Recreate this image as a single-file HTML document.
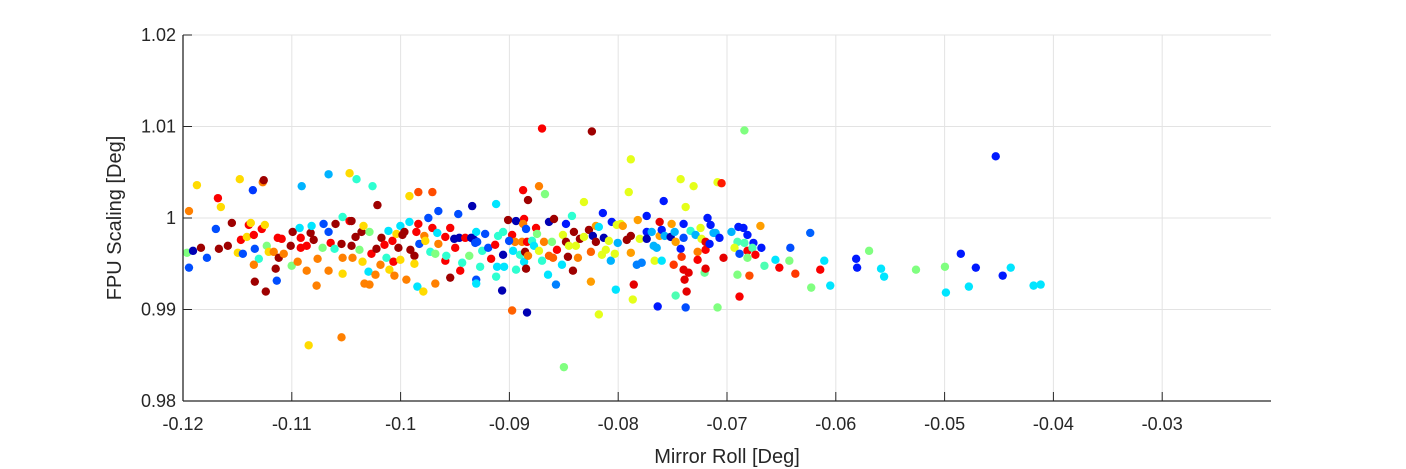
<!DOCTYPE html>
<html><head><meta charset="utf-8">
<style>
html,body{margin:0;padding:0;background:#fff;}
svg{display:block;font-family:"Liberation Sans",Arial,sans-serif;}
</style></head>
<body>
<svg id="chart" width="1406" height="469" viewBox="0 0 1406 469" xmlns="http://www.w3.org/2000/svg">
<rect x="0" y="0" width="1406" height="469" fill="#fff"/>
<g id="grid"></g>
<g id="points"></g>
<g id="axes"></g>
<text x="727" y="463" font-size="20" fill="#262626" text-anchor="middle">Mirror Roll [Deg]</text>
<text transform="translate(121,218) rotate(-90)" font-size="20" fill="#262626" text-anchor="middle">FPU Scaling [Deg]</text>
</svg>
<script>
const xTicks = [-0.12,-0.11,-0.10,-0.09,-0.08,-0.07,-0.06,-0.05,-0.04,-0.03];
const xTickLabels = ["-0.12","-0.11","-0.1","-0.09","-0.08","-0.07","-0.06","-0.05","-0.04","-0.03"];
const yTicks = [0.98,0.99,1.00,1.01,1.02];
const yTickLabels = ["0.98","0.99","1","1.01","1.02"];
const xDomain = [-0.12,-0.02];
const yDomain = [0.98,1.02];
// each point: [mirror roll, fpu scaling, colour value 0..1 (jet)]
const points = [
[-0.11945,1.00076,.75],[-0.11872,1.00359,.66],[-0.11679,1.00217,.88],[-0.11652,1.00120,.66],[-0.11478,1.00424,.66],[-0.11358,1.00304,.18],[-0.11267,1.00391,.75],[-0.11258,1.00413,.97],[-0.10909,1.00348,.3],[-0.10662,1.00478,.3],[-0.10469,1.00489,.66],[-0.10405,1.00424,.42],[-0.10258,1.00348,.42],[-0.09919,1.00239,.66],[-0.09837,1.00283,.8],[-0.09708,1.00283,.8],[-0.10213,1.00141,.97],[-0.09342,1.00130,.05],
[-0.11963,0.99620,.5],[-0.11908,0.99641,.05],[-0.11945,0.99457,.2],[-0.11835,0.99674,.97],[-0.11780,0.99565,.2],[-0.11698,0.99880,.2],[-0.11670,0.99663,.97],[-0.11588,0.99696,.97],[-0.11551,0.99946,.97],[-0.11496,0.99620,.66],[-0.11468,0.99761,.88],[-0.11450,0.99609,.2],[-0.11413,0.99793,.66],[-0.11395,0.99924,.88],[-0.11377,0.99946,.66],[-0.11349,0.99815,.88],[-0.11340,0.99663,.2],[-0.11303,0.99554,.42],[-0.11349,0.99489,.75],[-0.11340,0.99304,.97],[-0.11276,0.99880,.88],[-0.11248,0.99924,.66],[-0.11239,0.99196,.97],[-0.11230,0.99696,.5],[-0.11212,0.99630,.66],[-0.11166,0.99630,.75],[-0.11148,0.99446,.97],[-0.11138,0.99315,.2],[-0.11129,0.99783,.88],[-0.11120,0.99565,.97],[-0.11093,0.99772,.88],[-0.11074,0.99609,.75],[-0.11010,0.99696,.97],[-0.11001,0.99478,.5],[-0.10992,0.99848,.97],[-0.10946,0.99522,.75],[-0.10928,0.99891,.35],[-0.10918,0.99783,.88],[-0.10918,0.99674,.88],[-0.10863,0.99424,.75],[-0.10863,0.99696,.88],[-0.10827,0.99837,.97],[-0.10818,0.99913,.35],[-0.10799,0.99761,.97],[-0.10772,0.99261,.75],[-0.10763,0.99554,.75],[-0.10717,0.99674,.5],[-0.10708,0.99935,.2],[-0.10662,0.99848,.2],[-0.10662,0.99424,.75],[-0.10643,0.99728,.88],[-0.10607,0.99663,.42],[-0.10598,0.99935,.97],[-0.10543,0.99717,.97],[-0.10533,1.00011,.42],[-0.10533,0.99391,.66],[-0.10533,0.99565,.75],[-0.10469,0.99967,.88],[-0.10451,0.99967,.97],[-0.10451,0.99696,.97],[-0.10442,0.99565,.75],[-0.10414,0.99793,.97],[-0.10378,0.99652,.5],[-0.10359,0.99848,.97],[-0.10341,0.99913,.66],[-0.10350,0.99522,.66],[-0.10332,0.99283,.75],[-0.10286,0.99272,.75],[-0.10286,0.99848,.5],[-0.10295,0.99413,.35],[-0.10268,0.99609,.88],[-0.10231,0.99380,.75],[-0.10222,0.99663,.97],[-0.10185,0.99489,.75],[-0.10176,0.99783,.97],[-0.10148,0.99707,.88],[-0.10130,0.99565,.42],[-0.10112,0.99859,.35],[-0.10103,0.99435,.66],[-0.10075,0.99750,.88],[-0.10066,0.99522,.88],[-0.10057,0.99370,.75],[-0.10038,0.99826,.66],[-0.10020,0.99674,.97],[-0.10002,0.99543,.66],[-0.10002,0.99913,.35],[-0.09983,0.99815,.97],[-0.09965,0.99848,.97],[-0.09947,0.99326,.75],[-0.09919,0.99957,.35],[-0.09910,0.99652,.97],[-0.09873,0.99587,.97],[-0.09873,0.99500,.66],[-0.09855,0.99848,.88],[-0.09846,0.99250,.35],[-0.09837,0.99935,.88],[-0.09828,0.99717,.2],[-0.09791,0.99196,.66],[-0.09782,0.99804,.75],[-0.09773,0.99750,.66],[-0.09745,1.00000,.2],[-0.09727,0.99630,.42],[-0.09708,0.99891,.88],[-0.09681,0.99283,.75],[-0.09681,0.99609,.5],[-0.09663,0.99837,.35],[-0.09653,1.00076,.2],[-0.09653,0.99717,.75],[-0.09589,0.99793,.88],[-0.09589,0.99533,.88],[-0.09580,0.99587,.42],[-0.09544,0.99348,.97],[-0.09544,0.99891,.88],[-0.09507,0.99772,.05],[-0.09498,0.99674,.88],[-0.09470,1.00043,.2],[-0.09461,0.99783,.05],[-0.09452,0.99424,.88],[-0.09434,0.99511,.42],[-0.09406,0.99783,.88],[-0.09369,0.99587,.5],[-0.09324,0.99761,.05],[-0.09305,0.99326,.2],[-0.09305,0.99283,.35],[-0.09296,0.99739,.2],[-0.10845,0.98609,.66],[-0.10543,0.98696,.75],
[-0.09122,1.00152,.35],[-0.08874,1.00304,.88],[-0.08829,1.00196,.97],[-0.08728,1.00348,.75],[-0.08673,1.00261,.5],[-0.08315,1.00174,.6],[-0.07884,1.00641,.6],[-0.07903,1.00283,.6],[-0.07582,1.00185,.15],[-0.07426,1.00424,.6],[-0.07307,1.00348,.6],[-0.07380,1.00120,.6],[-0.07087,1.00391,.6],[-0.07050,1.00380,.85],
[-0.09305,0.99848,.35],[-0.09223,0.99826,.2],[-0.09351,0.99783,.05],[-0.09314,0.99728,.2],[-0.09250,0.99641,.42],[-0.09195,0.99674,.2],[-0.09168,0.99554,.88],[-0.09131,0.99707,.88],[-0.09104,0.99804,.42],[-0.09058,0.99848,.42],[-0.09058,0.99598,.05],[-0.09113,0.99467,.35],[-0.09049,0.99467,.35],[-0.09122,0.99359,.42],[-0.09269,0.99467,.42],[-0.09067,0.99207,.05],[-0.09012,0.99978,.97],[-0.08939,0.99967,.05],[-0.08975,0.99815,.88],[-0.08948,0.99739,.75],[-0.09003,0.99750,.2],[-0.08966,0.99641,.35],[-0.08939,0.99435,.42],[-0.08902,0.99598,.42],[-0.08884,0.99739,.75],[-0.08865,0.99989,.88],[-0.08874,0.99935,.75],[-0.08847,0.99880,.2],[-0.08856,0.99630,.97],[-0.08865,0.99522,.35],[-0.08847,0.99446,.97],[-0.08829,0.99587,.75],[-0.08838,0.99739,.88],[-0.08792,0.99750,.42],[-0.08774,0.99696,.35],[-0.08755,0.99891,.88],[-0.08746,0.99826,.5],[-0.08728,0.99641,.6],[-0.08700,0.99533,.42],[-0.08682,0.99739,.75],[-0.08645,0.99380,.35],[-0.08636,0.99957,.05],[-0.08636,0.99587,.78],[-0.08599,0.99565,.78],[-0.08590,0.99989,.97],[-0.08609,0.99739,.5],[-0.08563,0.99652,.88],[-0.08572,0.99272,.25],[-0.08517,0.99489,.35],[-0.08508,0.99815,.6],[-0.08480,0.99739,.97],[-0.08480,0.99935,.15],[-0.08462,0.99576,.97],[-0.08453,0.99696,.6],[-0.08425,1.00022,.42],[-0.08407,0.99848,.97],[-0.08389,0.99696,.6],[-0.08416,0.99424,.97],[-0.08370,0.99565,.75],[-0.08352,0.99772,.97],[-0.08315,0.99793,.6],[-0.08269,0.99870,.97],[-0.08251,0.99630,.78],[-0.08251,0.99304,.72],[-0.08233,0.99804,.05],[-0.08205,0.99739,.97],[-0.08205,0.99913,.72],[-0.08178,0.99902,.35],[-0.08141,1.00054,.15],[-0.08132,0.99783,.05],[-0.08150,0.99598,.6],[-0.08114,0.99652,.6],[-0.08086,0.99750,.6],[-0.08068,0.99533,.3],[-0.08059,0.99957,.15],[-0.08031,0.99609,.6],[-0.08022,0.99217,.35],[-0.08013,0.99924,.6],[-0.08004,0.99728,.3],[-0.07976,0.99935,.6],[-0.07958,0.99913,.72],[-0.07921,0.99761,.97],[-0.07884,0.99804,.97],[-0.07884,0.99620,.72],[-0.07857,0.99272,.9],[-0.07866,0.99109,.6],[-0.07829,0.99489,.25],[-0.07820,0.99978,.72],[-0.07802,0.99772,.6],[-0.07784,0.99511,.25],[-0.07738,1.00022,.15],[-0.07738,0.99848,.15],[-0.07738,0.99772,.05],[-0.07692,0.99848,.3],[-0.07674,0.99696,.3],[-0.07665,0.99533,.6],[-0.07646,0.99674,.3],[-0.07637,0.99033,.15],[-0.07619,0.99957,.9],[-0.07619,0.99804,.72],[-0.07600,0.99533,.35],[-0.07600,0.99870,.15],[-0.07573,0.99804,.3],[-0.07518,0.99793,.05],[-0.07509,0.99935,.72],[-0.07490,0.99489,.82],[-0.07481,0.99848,.3],[-0.07472,0.99739,.72],[-0.07472,0.99152,.45],[-0.07426,0.99663,.15],[-0.07417,0.99576,.82],[-0.07399,0.99935,.15],[-0.07399,0.99783,.2],[-0.07399,0.99435,.9],[-0.07390,0.99326,.9],[-0.07353,0.99402,.9],[-0.07371,0.99196,.9],[-0.07335,0.99859,.42],[-0.07289,0.99815,.3],[-0.07270,0.99630,.75],[-0.07270,0.99543,.88],[-0.07243,0.99891,.6],[-0.07234,0.99772,.6],[-0.07206,0.99402,.48],[-0.07197,0.99652,.88],[-0.07197,0.99739,.9],[-0.07197,0.99446,.9],[-0.07179,1.00000,.15],[-0.07151,0.99924,.15],[-0.07160,0.99717,.15],[-0.07124,0.99837,.3],[-0.07105,0.99837,.3],[-0.07069,0.99783,.15],[-0.07032,0.99565,.9],[-0.06959,0.99848,.3],[-0.06895,0.99902,.15],[-0.06849,0.99891,.15],[-0.06812,0.99815,.15],[-0.06904,0.99739,.45],[-0.06840,0.99728,.45],[-0.06931,0.99674,.6],[-0.06885,0.99609,.2],[-0.06812,0.99641,.88],[-0.06757,0.99728,.15],[-0.06766,0.99674,.45],[-0.06739,0.99598,.88],[-0.06812,0.99565,.5],[-0.06693,0.99913,.72],[-0.06684,0.99674,.15],[-0.06656,0.99478,.45],[-0.06904,0.99380,.5],[-0.06794,0.99370,.8],[-0.06885,0.99141,.88],[-0.07087,0.99022,.5],
[-0.08700,1.00978,.88],[-0.08242,1.00946,.97],[-0.06840,1.00957,.5],[-0.08499,0.98370,.5],[-0.08975,0.98989,.78],[-0.08838,0.98967,.05],[-0.08178,0.98946,.6],[-0.07380,0.99022,.2],
[-0.06555,0.99543,.35],[-0.06519,0.99457,.88],[-0.06427,0.99533,.5],[-0.06418,0.99674,.2],[-0.06372,0.99391,.82],[-0.06235,0.99837,.22],[-0.06226,0.99239,.5],[-0.06143,0.99435,.88],[-0.06106,0.99533,.35],[-0.06051,0.99261,.35],[-0.05813,0.99554,.15],[-0.05804,0.99457,.15],[-0.05694,0.99641,.5],[-0.05584,0.99446,.35],[-0.05556,0.99359,.35],[-0.05263,0.99435,.5],[-0.04997,0.99467,.5],[-0.04988,0.99185,.35],[-0.04851,0.99609,.15],[-0.04777,0.99250,.35],[-0.04713,0.99457,.15],[-0.04530,1.00674,.15],[-0.04466,0.99370,.15],[-0.04392,0.99457,.35],[-0.04182,0.99261,.35],[-0.04117,0.99272,.35]
];

const NS = "http://www.w3.org/2000/svg";
const L = 183, R = 1271, T = 35, B = 401;
function sx(v){ return L + (v - xDomain[0]) / (xDomain[1] - xDomain[0]) * (R - L); }
function sy(v){ return B - (v - yDomain[0]) / (yDomain[1] - yDomain[0]) * (B - T); }
function jet(v){
  const r = Math.max(0, Math.min(1, Math.min(4*v - 1.5, -4*v + 4.5)));
  const g = Math.max(0, Math.min(1, Math.min(4*v - 0.5, -4*v + 3.5)));
  const b = Math.max(0, Math.min(1, Math.min(4*v + 0.5, -4*v + 2.5)));
  return "rgb(" + Math.round(r*255) + "," + Math.round(g*255) + "," + Math.round(b*255) + ")";
}
function mk(tag, attrs, parent){
  const e = document.createElementNS(NS, tag);
  for (const k in attrs) e.setAttribute(k, attrs[k]);
  parent.appendChild(e);
  return e;
}
const grid = document.getElementById("grid");
const axes = document.getElementById("axes");
const pts = document.getElementById("points");

xTicks.forEach((t, i) => {
  const x = sx(t);
  const gl = mk("line", {x1:x, y1:T, x2:x, y2:B, stroke:"#e3e3e3", "stroke-width":1}, grid);
  
  
  const tk = mk("line", {x1:x, y1:B, x2:x, y2:B-9, stroke:"#262626", "stroke-width":1}, axes);
  
  
  const lb = mk("text", {x:x, y:B+29, "font-size":18, fill:"#262626", "text-anchor":"middle"}, axes);
  
  
  lb.textContent = xTickLabels[i];
});
yTicks.forEach((t, i) => {
  const y = sy(t);
  const gl = mk("line", {x1:L, y1:y, x2:R, y2:y, stroke:"#e3e3e3", "stroke-width":1}, grid);
  
  
  const tk = mk("line", {x1:L, y1:y, x2:L+9, y2:y, stroke:"#262626", "stroke-width":1}, axes);
  
  
  const lb = mk("text", {x:L-7, y:y+6, "font-size":18, fill:"#262626", "text-anchor":"end"}, axes);
  
  
  lb.textContent = yTickLabels[i];
});
const xa = mk("line", {x1:L, y1:B, x2:R, y2:B, stroke:"#262626", "stroke-width":1.3}, axes);


const ya = mk("line", {x1:L, y1:T, x2:L, y2:B, stroke:"#262626", "stroke-width":1.3}, axes);



points.forEach(p => {
  const c = mk("circle", {cx:sx(p[0]), cy:sy(p[1]), r:4.2, fill:jet(p[2])}, pts);
  
  
});
</script>
</body></html>
